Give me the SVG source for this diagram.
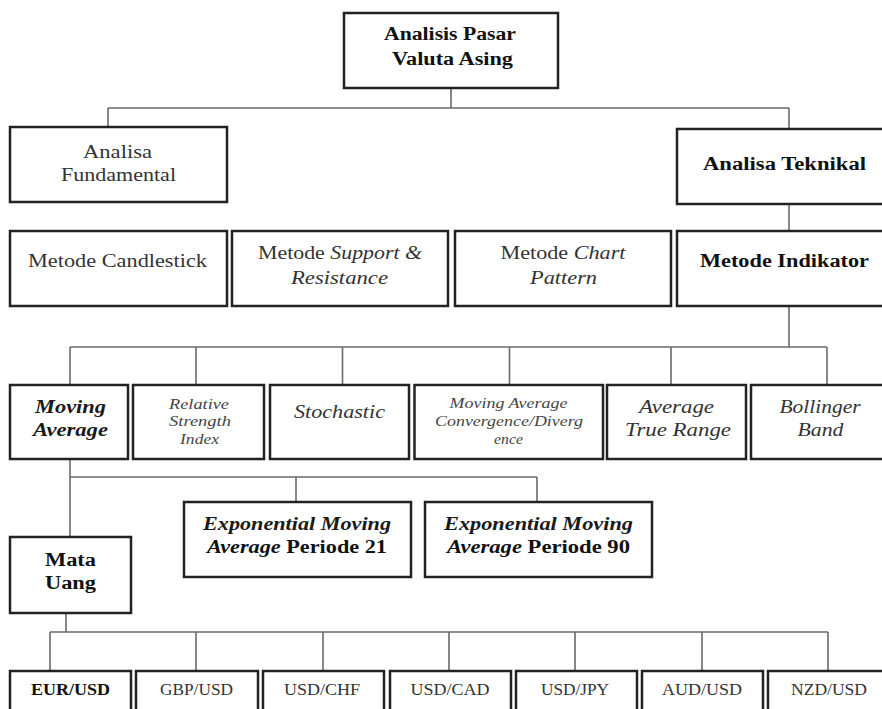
<svg xmlns="http://www.w3.org/2000/svg" width="882" height="709" viewBox="0 0 882 709">
<defs>
<style>
.box{fill:#fff;stroke:#222;stroke-width:2.5}
.con{fill:none;stroke:#6a6a6a;stroke-width:1.6}
text{font-family:"Liberation Serif","Times New Roman",serif;text-anchor:middle}
.b{font-weight:bold;fill:#111;font-size:18.5px}
.n{fill:#333;font-size:18.5px}
.i{font-style:italic;fill:#333;font-size:18.5px}
.bi{font-style:italic;font-weight:bold;fill:#1a1a1a;font-size:18.5px}
.s{font-style:italic;fill:#444;font-size:14px}
.c{fill:#333;font-size:16px}
.cb{fill:#111;font-size:16px;font-weight:bold}
</style>
</defs>
<rect width="882" height="709" fill="#fff"/>
<g id="connectors">
<path class="con" d="M451 88V108M108 108H789M108 108V127M789 108V129"/>
<path class="con" d="M789 204V231"/>
<path class="con" d="M789 306V347M70 347H827M70 347V385M196 347V385M342.5 347V385M509.5 347V385M671 347V385M827 347V385"/>
<path class="con" d="M70 459V537M70 477H537M296 477V502M537 477V502"/>
<path class="con" d="M66 613V632M50 632H828M50 632V671M196 632V671M323 632V671M449 632V671M575 632V671M702 632V671M828 632V671"/>
</g>
<g id="analisis-pasar">
<rect class="box" x="344" y="13" width="214" height="75"/>
<text class="b" x="450" y="40" textLength="132" lengthAdjust="spacingAndGlyphs">Analisis Pasar</text>
<text class="b" x="452.5" y="65" textLength="121" lengthAdjust="spacingAndGlyphs">Valuta Asing</text>
</g>
<g id="analisa-fundamental">
<rect class="box" x="10" y="127" width="217" height="75"/>
<text class="n" x="117.5" y="158" textLength="69" lengthAdjust="spacingAndGlyphs">Analisa</text>
<text class="n" x="118.5" y="181" textLength="115" lengthAdjust="spacingAndGlyphs">Fundamental</text>
</g>
<g id="analisa-teknikal">
<rect class="box" x="677" y="129" width="215" height="75"/>
<text class="b" x="784.5" y="170" textLength="163" lengthAdjust="spacingAndGlyphs">Analisa Teknikal</text>
</g>
<g id="metode-candlestick">
<rect class="box" x="10" y="231" width="217" height="75"/>
<text class="n" x="117.5" y="267" textLength="179" lengthAdjust="spacingAndGlyphs">Metode Candlestick</text>
</g>
<g id="metode-support">
<rect class="box" x="232" y="231" width="216" height="75"/>
<text class="n" x="340" y="259" textLength="164" lengthAdjust="spacingAndGlyphs">Metode <tspan font-style="italic">Support &amp;</tspan></text>
<text class="i" x="339.5" y="284" textLength="97" lengthAdjust="spacingAndGlyphs">Resistance</text>
</g>
<g id="metode-chart">
<rect class="box" x="455" y="231" width="216" height="75"/>
<text class="n" x="563" y="259" textLength="125" lengthAdjust="spacingAndGlyphs">Metode <tspan font-style="italic">Chart</tspan></text>
<text class="i" x="563.5" y="284" textLength="67" lengthAdjust="spacingAndGlyphs">Pattern</text>
</g>
<g id="metode-indikator">
<rect class="box" x="677" y="231" width="215" height="75"/>
<text class="b" x="784.5" y="267" textLength="169" lengthAdjust="spacingAndGlyphs">Metode Indikator</text>
</g>
<g id="moving-average">
<rect class="box" x="10" y="385" width="118" height="74"/>
<text class="bi" x="70.5" y="413" textLength="71" lengthAdjust="spacingAndGlyphs">Moving</text>
<text class="bi" x="70.5" y="436" textLength="75" lengthAdjust="spacingAndGlyphs">Average</text>
</g>
<g id="rsi">
<rect class="box" x="133" y="385" width="131" height="74"/>
<text class="s" x="199" y="409" textLength="60" lengthAdjust="spacingAndGlyphs">Relative</text>
<text class="s" x="200" y="426" textLength="62" lengthAdjust="spacingAndGlyphs">Strength</text>
<text class="s" x="199.5" y="444" textLength="39" lengthAdjust="spacingAndGlyphs">Index</text>
</g>
<g id="stochastic">
<rect class="box" x="270" y="385" width="139" height="74"/>
<text class="i" x="339.5" y="418" textLength="91" lengthAdjust="spacingAndGlyphs">Stochastic</text>
</g>
<g id="macd">
<rect class="box" x="414.5" y="385" width="188.5" height="74"/>
<text class="s" x="508.5" y="408" textLength="118" lengthAdjust="spacingAndGlyphs">Moving Average</text>
<text class="s" x="509" y="426" textLength="148" lengthAdjust="spacingAndGlyphs">Convergence/Diverg</text>
<text class="s" x="508.5" y="444" textLength="29" lengthAdjust="spacingAndGlyphs">ence</text>
</g>
<g id="atr">
<rect class="box" x="607" y="385" width="139" height="74"/>
<text class="i" x="676.5" y="413" textLength="75" lengthAdjust="spacingAndGlyphs">Average</text>
<text class="i" x="678" y="436" textLength="106" lengthAdjust="spacingAndGlyphs">True Range</text>
</g>
<g id="bollinger">
<rect class="box" x="751" y="385" width="141" height="74"/>
<text class="i" x="820" y="413" textLength="81" lengthAdjust="spacingAndGlyphs">Bollinger</text>
<text class="i" x="820.5" y="436" textLength="46" lengthAdjust="spacingAndGlyphs">Band</text>
</g>
<g id="ema21">
<rect class="box" x="184" y="502" width="227" height="75"/>
<text class="bi" x="297" y="530" textLength="188" lengthAdjust="spacingAndGlyphs">Exponential Moving</text>
<text class="b" x="297" y="553" textLength="180" lengthAdjust="spacingAndGlyphs"><tspan font-style="italic">Average</tspan> Periode 21</text>
</g>
<g id="ema90">
<rect class="box" x="425" y="502" width="227" height="75"/>
<text class="bi" x="538.5" y="530" textLength="189" lengthAdjust="spacingAndGlyphs">Exponential Moving</text>
<text class="b" x="538.5" y="553" textLength="183" lengthAdjust="spacingAndGlyphs"><tspan font-style="italic">Average</tspan> Periode 90</text>
</g>
<g id="mata-uang">
<rect class="box" x="10" y="537" width="121" height="76"/>
<text class="b" x="70.5" y="566" textLength="51" lengthAdjust="spacingAndGlyphs">Mata</text>
<text class="b" x="70.5" y="589" textLength="51" lengthAdjust="spacingAndGlyphs">Uang</text>
</g>
<g id="eur-usd">
<rect class="box" x="10" y="671" width="121" height="50"/>
<text class="cb" x="70.5" y="695" textLength="79" lengthAdjust="spacingAndGlyphs">EUR/USD</text>
</g>
<g id="gbp-usd">
<rect class="box" x="136" y="671" width="122" height="50"/>
<text class="c" x="196.5" y="695" textLength="73" lengthAdjust="spacingAndGlyphs">GBP/USD</text>
</g>
<g id="usd-chf">
<rect class="box" x="263" y="671" width="121" height="50"/>
<text class="c" x="322" y="695" textLength="76" lengthAdjust="spacingAndGlyphs">USD/CHF</text>
</g>
<g id="usd-cad">
<rect class="box" x="390" y="671" width="121" height="50"/>
<text class="c" x="450" y="695" textLength="79" lengthAdjust="spacingAndGlyphs">USD/CAD</text>
</g>
<g id="usd-jpy">
<rect class="box" x="516" y="671" width="121" height="50"/>
<text class="c" x="575" y="695" textLength="68" lengthAdjust="spacingAndGlyphs">USD/JPY</text>
</g>
<g id="aud-usd">
<rect class="box" x="642" y="671" width="121" height="50"/>
<text class="c" x="702" y="695" textLength="80" lengthAdjust="spacingAndGlyphs">AUD/USD</text>
</g>
<g id="nzd-usd">
<rect class="box" x="768" y="671" width="124" height="50"/>
<text class="c" x="829" y="695" textLength="76" lengthAdjust="spacingAndGlyphs">NZD/USD</text>
</g>
</svg>
